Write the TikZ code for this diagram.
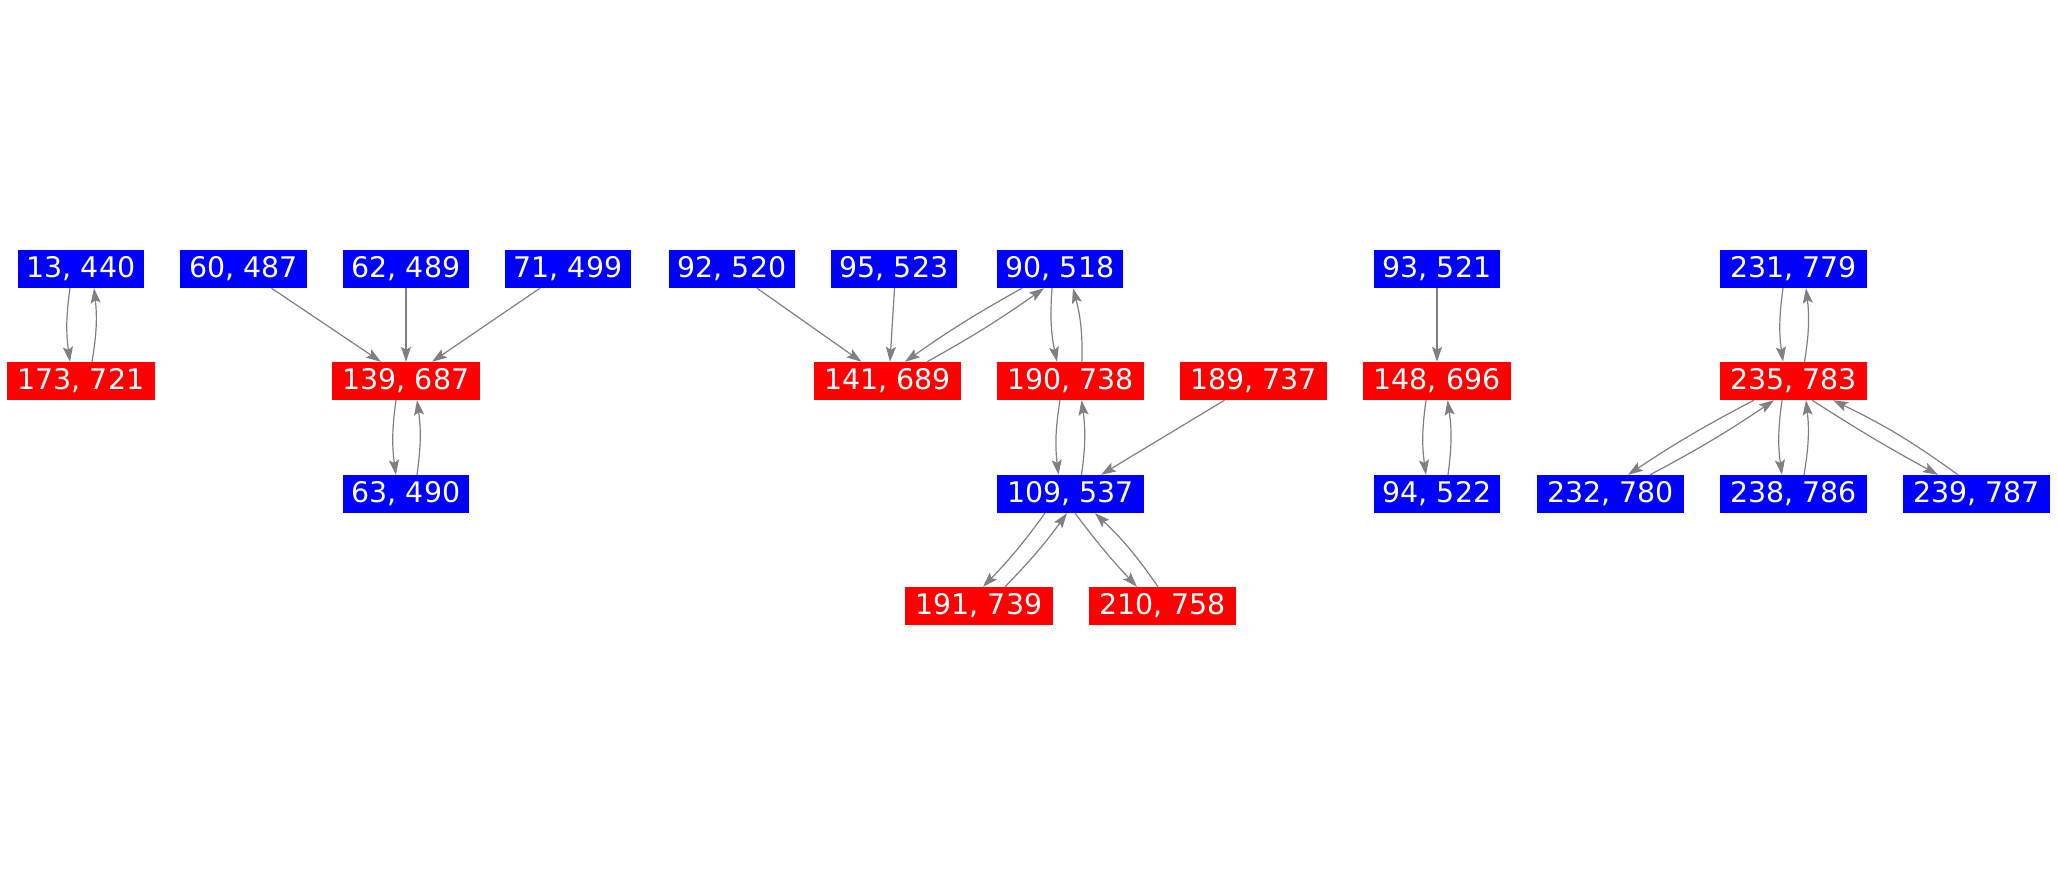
\documentclass[tikz,border=0pt]{standalone}
\usepackage{fontspec}
\newfontfamily\nodefont{DejaVu Sans}
\usetikzlibrary{arrows.meta}
\definecolor{nblue}{RGB}{0,0,255}
\definecolor{nred}{RGB}{255,0,0}
\definecolor{egray}{RGB}{128,128,128}
\tikzset{
  box/.style={minimum height=38pt, inner sep=0pt, text=white,
    font=\nodefont\fontsize{28.4}{32}\selectfont},
  bb/.style={box, fill=nblue},
  rb/.style={box, fill=nred},
  w5/.style={minimum width=126.5pt},
  w6/.style={minimum width=147.5pt},
  edge/.style={draw=egray, line width=1.2pt, -{Stealth[length=15pt, width=10pt, inset=3pt]}},
}
\begin{document}
\begin{tikzpicture}[x=1pt, y=-1pt]
\useasboundingbox[fill=white] (0,0) rectangle (2058,875);
% nodes
\node[bb,w5] (n13)  at (81,269) {13, 440};
\node[rb,w6] (n173) at (81,381) {173, 721};
\node[bb,w5] (n60)  at (243.5,269) {60, 487};
\node[bb,w5] (n62)  at (406,269) {62, 489};
\node[bb,w5] (n71)  at (568,269) {71, 499};
\node[rb,w6] (n139) at (406,381) {139, 687};
\node[bb,w5] (n63)  at (406,494) {63, 490};
\node[bb,w5] (n92)  at (732,269) {92, 520};
\node[bb,w5] (n95)  at (894,269) {95, 523};
\node[bb,w5] (n90)  at (1060,269) {90, 518};
\node[rb,w6] (n141) at (887.5,381) {141, 689};
\node[rb,w6] (n190) at (1070.5,381) {190, 738};
\node[rb,w6] (n189) at (1253.5,381) {189, 737};
\node[bb,w6] (n109) at (1070.5,494) {109, 537};
\node[rb,w6] (n191) at (979,606) {191, 739};
\node[rb,w6] (n210) at (1162.5,606) {210, 758};
\node[bb,w5] (n93)  at (1437,269) {93, 521};
\node[rb,w6] (n148) at (1437,381) {148, 696};
\node[bb,w5] (n94)  at (1437,494) {94, 522};
\node[bb,w6] (n231) at (1793.5,269) {231, 779};
\node[rb,w6] (n235) at (1793.5,381) {235, 783};
\node[bb,w6] (n232) at (1610.5,494) {232, 780};
\node[bb,w6] (n238) at (1793.5,494) {238, 786};
\node[bb,w6] (n239) at (1976.5,494) {239, 787};
% edges
\draw[edge] ([xshift=-11pt]n13.south) to[bend right=8] ([xshift=-11pt]n173.north);
\draw[edge] ([xshift=11pt]n173.north) to[bend right=8] ([xshift=13pt]n13.south);
\draw[edge] ([xshift=28pt]n60.south) -- ([xshift=-25pt]n139.north);
\draw[edge] (n62.south) -- (n139.north);
\draw[edge] ([xshift=-28pt]n71.south) -- ([xshift=26pt]n139.north);
\draw[edge] ([xshift=-10pt]n139.south) to[bend right=8] ([xshift=-10pt]n63.north);
\draw[edge] ([xshift=11pt]n63.north) to[bend right=8] ([xshift=11pt]n139.south);
\draw[edge] ([xshift=25pt]n92.south) -- ([xshift=-26pt]n141.north);
\draw[edge] ([xshift=0.5pt]n95.south) -- ([xshift=2.5pt]n141.north);
\draw[edge] ([xshift=-38pt]n90.south) to[bend right=3] ([xshift=17.5pt]n141.north);
\draw[edge] ([xshift=39.5pt]n141.north) to[bend right=3] ([xshift=-16pt]n90.south);
\draw[edge] ([xshift=-8pt]n90.south) to[bend right=8] ([xshift=-13.5pt]n190.north);
\draw[edge] ([xshift=11.5pt]n190.north) to[bend right=8] ([xshift=13pt]n90.south);
\draw[edge] ([xshift=-10.5pt]n190.south) to[bend right=8] ([xshift=-12pt]n109.north);
\draw[edge] ([xshift=11pt]n109.north) to[bend right=8] ([xshift=11pt]n190.south);
\draw[edge] ([xshift=-29pt]n189.south) -- ([xshift=30.5pt]n109.north);
\draw[edge] ([xshift=-25.5pt]n109.south) to[bend left=4] ([xshift=4pt]n191.north);
\draw[edge] ([xshift=26pt]n191.north) to[bend right=4] ([xshift=-3.5pt]n109.south);
\draw[edge] ([xshift=4.5pt]n109.south) to[bend right=3] ([xshift=-25.5pt]n210.north);
\draw[edge] ([xshift=-4.5pt]n210.north) to[bend right=6] ([xshift=24.5pt]n109.south);
\draw[edge] (n93.south) -- (n148.north);
\draw[edge] ([xshift=-11pt]n148.south) to[bend right=8] ([xshift=-11pt]n94.north);
\draw[edge] ([xshift=11pt]n94.north) to[bend right=8] ([xshift=10.5pt]n148.south);
\draw[edge] ([xshift=-10.5pt]n231.south) to[bend right=8] ([xshift=-10.5pt]n235.north);
\draw[edge] ([xshift=11pt]n235.north) to[bend right=8] ([xshift=12.5pt]n231.south);
\draw[edge] ([xshift=-39.5pt]n235.south) to[bend right=3] ([xshift=17.5pt]n232.north);
\draw[edge] ([xshift=39.5pt]n232.north) to[bend right=3] ([xshift=-19.5pt]n235.south);
\draw[edge] ([xshift=-11.5pt]n235.south) to[bend right=8] ([xshift=-11.5pt]n238.north);
\draw[edge] ([xshift=10.5pt]n238.north) to[bend right=8] ([xshift=12.5pt]n235.south);
\draw[edge] ([xshift=18.5pt]n235.south) to[bend right=2] ([xshift=-38.5pt]n239.north);
\draw[edge] ([xshift=-18.5pt]n239.north) to[bend right=5] ([xshift=39.5pt]n235.south);
\end{tikzpicture}
\end{document}
